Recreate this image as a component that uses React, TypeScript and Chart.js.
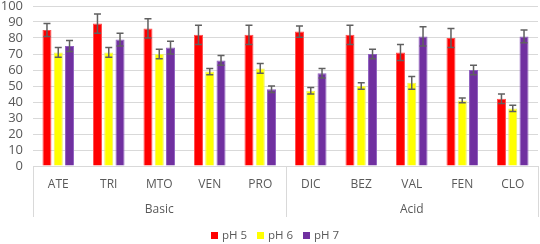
import React, { useEffect, useRef } from "react";
import { Chart, registerables } from "chart.js";

Chart.register(...registerables);

const categories = ["ATE", "TRI", "MTO", "VEN", "PRO", "DIC", "BEZ", "VAL", "FEN", "CLO"];
const groups = ["Basic", "Acid"];
const groupSizes = [5, 5];
const seriesNames = ["pH 5", "pH 6", "pH 7"];
const seriesColors = ["#ff0000", "#ffff00", "#7030a0"];
const seriesBorders = ["#ff5050", "#f0f060", "#9060c0"];
const ph5 = [85, 89, 86, 82, 82, 84, 82, 71, 80, 42];
const ph6 = [71, 71, 70, 59, 61, 47, 50, 52, 41, 36];
const ph7 = [75, 79, 74, 66, 48, 58, 70, 81, 60, 81];
const ph5Err = [4, 6, 6, 6, 6, 3.5, 6, 5, 6, 3];
const ph6Err = [3, 3, 3, 2, 3, 2, 2, 4, 1.5, 2];
const ph7Err = [3.5, 4, 4, 3, 2, 3, 3, 6, 3, 4];
const yTicks = [0, 10, 20, 30, 40, 50, 60, 70, 80, 90, 100];

const FONT = "'Open Sans', 'Noto Sans', sans-serif";
const TEXT = "#595959";
const GRID = "#d9d9d9";

const errors = [ph5Err, ph6Err, ph7Err];

const errorBarPlugin = {
  id: "errorBars",
  afterDatasetsDraw(chart: any) {
    const ctx = chart.ctx;
    const y = chart.scales.y;
    ctx.save();
    ctx.strokeStyle = "#606060";
    ctx.lineWidth = 1.5;
    chart.data.datasets.forEach((ds: any, di: number) => {
      const meta = chart.getDatasetMeta(di);
      meta.data.forEach((bar: any, i: number) => {
        const v = ds.data[i];
        const e = errors[di][i];
        const top = y.getPixelForValue(v + e);
        const bot = y.getPixelForValue(v - e);
        const x = bar.x;
        ctx.beginPath();
        ctx.moveTo(x, top);
        ctx.lineTo(x, bot);
        ctx.moveTo(x - 3.5, top);
        ctx.lineTo(x + 3.5, top);
        ctx.moveTo(x - 3.5, bot);
        ctx.lineTo(x + 3.5, bot);
        ctx.stroke();
      });
    });
    ctx.restore();
  },
};

const groupAxisPlugin = {
  id: "groupAxis",
  afterDraw(chart: any) {
    const ctx = chart.ctx;
    const x = chart.scales.x;
    const area = chart.chartArea;
    const lineBottom = area.bottom + 51;
    ctx.save();
    ctx.strokeStyle = GRID;
    ctx.lineWidth = 1;
    const bounds: number[] = [x.left];
    let idx = 0;
    groupSizes.forEach((n) => {
      idx += n;
      if (idx < categories.length) {
        bounds.push((x.getPixelForValue(idx - 1) + x.getPixelForValue(idx)) / 2);
      } else {
        bounds.push(x.right);
      }
    });
    bounds.forEach((bx) => {
      const px = Math.round(bx) + 0.5;
      ctx.beginPath();
      ctx.moveTo(px, area.bottom);
      ctx.lineTo(px, lineBottom);
      ctx.stroke();
    });
    ctx.fillStyle = TEXT;
    ctx.font = `12px ${FONT}`;
    ctx.textAlign = "center";
    ctx.textBaseline = "middle";
    groups.forEach((g, gi) => {
      ctx.fillText(g, (bounds[gi] + bounds[gi + 1]) / 2, area.bottom + 44);
    });

    // legend
    const box = 7;
    const gap = 4;
    const itemGap = 10;
    ctx.font = `11.5px ${FONT}`;
    ctx.textAlign = "left";
    const widths = seriesNames.map((n) => ctx.measureText(n).width);
    const total = widths.reduce((a, w) => a + box + gap + w, 0) + itemGap * (seriesNames.length - 1);
    let lx = 275 - total / 2;
    const ly = chart.height - 9;
    seriesNames.forEach((n, i) => {
      ctx.fillStyle = seriesColors[i];
      ctx.fillRect(Math.round(lx), Math.round(ly - box / 2), box, box);
      ctx.fillStyle = TEXT;
      ctx.fillText(n, lx + box + gap, ly + 0.5);
      lx += box + gap + widths[i] + itemGap;
    });
    ctx.restore();
  },
};

export default function App() {
  const ref = useRef<HTMLCanvasElement | null>(null);
  useEffect(() => {
    document.body.style.margin = "0";
    const canvas = ref.current;
    if (!canvas) return;
    const chart = new Chart(canvas, {
      type: "bar",
      data: {
        labels: categories,
        datasets: [0, 1, 2].map((i) => ({
          label: seriesNames[i],
          data: [ph5, ph6, ph7][i],
          backgroundColor: seriesColors[i],
          borderColor: seriesBorders[i],
          borderWidth: 1,
        })),
      },
      options: {
        animation: false,
        responsive: false,
        maintainAspectRatio: false,
        layout: { padding: { top: 6, right: 2, bottom: 24, left: 0 } },
        datasets: { bar: { categoryPercentage: 0.67, barPercentage: 0.8 } },
        scales: {
          x: {
            grid: { display: false, drawTicks: false },
            border: { display: true, color: GRID },
            ticks: { color: TEXT, font: { family: FONT, size: 12 }, padding: 11, maxRotation: 0, autoSkip: false },
            afterFit: (s: any) => {
              s.height = 54;
              s.paddingLeft = 0;
              s.paddingRight = 0;
            },
          },
          y: {
            min: 0,
            max: 100,
            afterBuildTicks: (s: any) => {
              s.ticks = yTicks.map((v) => ({ value: v }));
            },
            grid: { color: GRID, drawTicks: false },
            border: { display: false },
            ticks: { color: TEXT, font: { family: FONT, size: 13 }, padding: 10, autoSkip: false },
            afterFit: (s: any) => {
              s.width = 33;
              s.paddingTop = 0;
              s.paddingBottom = 0;
            },
          },
        },
        plugins: {
          legend: { display: false },
          tooltip: { enabled: false },
        },
      },
      plugins: [errorBarPlugin, groupAxisPlugin],
    });
    return () => chart.destroy();
  }, []);
  return (
    <div style={{ width: 540, height: 244 }}>
      <canvas ref={ref} width={540} height={244} style={{ width: 540, height: 244, display: "block" }} />
    </div>
  );
}
